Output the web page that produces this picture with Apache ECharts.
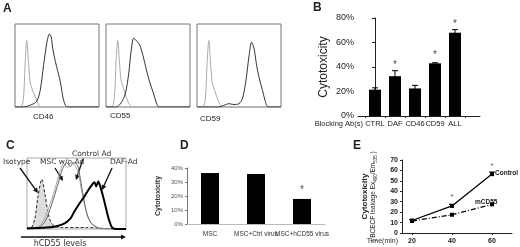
<!DOCTYPE html>
<html>
<head>
<meta charset="utf-8">
<script src="https://cdn.jsdelivr.net/npm/echarts@6/dist/echarts.min.js"></script>
<style>
html, body { margin: 0; padding: 0; background: #fff; }
#main { width: 520px; height: 247px; }
</style>
</head>
<body>
<div id="main"></div>
<script>
// A: flow histograms, [fluorescence %, count %]
const cd46Iso = [[0,0],[7,0],[10,10],[12,50],[14,80],[16,55],[18,30],[20,23],[23,15],[27,5],[31,0],[100,0]];
const cd46Stain = [[0,0],[10,0],[20,3],[26,7],[30,20],[34,50],[38,78],[41,88],[43,85],[45,70],[48,55],[51,43],[54,30],[57,12],[60,2],[63,0],[100,0]];
const cd55Iso = [[0,0],[7,0],[10,12],[12,55],[14,80],[16,55],[18,32],[21,22],[24,12],[28,3],[32,0],[100,0]];
const cd55Stain = [[0,0],[12,0],[18,5],[23,16],[27,40],[30,68],[33,83],[36,80],[40,75],[44,62],[48,45],[52,30],[56,18],[60,5],[63,0],[100,0]];
const cd59Iso = [[0,0],[7,0],[10,10],[12,52],[14,80],[16,55],[18,30],[20,23],[23,14],[27,4],[31,0],[100,0]];
const cd59Stain = [[0,0],[25,0],[32,2],[38,4],[44,3],[50,4],[54,10],[58,30],[62,62],[65,78],[68,70],[71,50],[74,35],[78,20],[81,8],[85,0],[100,0]];
const histNames = ['CD46', 'CD55', 'CD59'];

// B: blocking antibodies
const blockCats = ['CTRL', 'DAF', 'CD46', 'CD59', 'ALL'];
const blockVals = [0.215, 0.325, 0.225, 0.43, 0.68];
const blockErr = [0.015, 0.045, 0.025, 0.005, 0.025];
const blockStar = [null, 0.415, null, 0.5, 0.75];

// C: hCD55 levels
const isoC = [[0,0],[4,1],[8,15],[11,45],[15,70],[18,50],[21,25],[24,10],[28,4],[35,2],[60,2],[75,1],[100,0]];
const mscC = [[0,0],[8,1],[15,8],[22,30],[28,55],[33,80],[37,92],[41,86],[45,94],[49,88],[52,78],[55,55],[58,35],[61,18],[66,6],[72,1],[100,0]];
const ctrlC = [[0,0],[10,1],[18,10],[25,35],[31,62],[36,85],[40,93],[44,88],[47,94],[51,90],[54,70],[57,45],[60,25],[64,10],[70,3],[78,0],[100,0]];
const dafC = [[0,1],[20,2],[30,4],[38,8],[44,15],[48,25],[53,36],[58,46],[62,55],[66,63],[68,66],[70,60],[72,67],[74,60],[77,45],[80,28],[83,12],[86,2],[90,0],[100,0]];

// D: virus
const virusCats = ['MSC', 'MSC+Ctrl virus', 'MSC+hCD55 virus'];
const virusVals = [0.364, 0.357, 0.179];
const virusStar = [null, null, 0.24];

// E: time course
const timePts = [20, 40, 60];
const controlVals = [12, 26, 56.5];
const controlErr = [0.8, 1.5, 2];
const mcd55Vals = [11.5, 17.5, 27.5];
const timeStar = [null, 35, 64];

const FONT = 'Liberation Sans';
const chart = echarts.init(document.getElementById('main'));

function arrow(x1, y1, x2, y2) {
  const a = Math.atan2(y2 - y1, x2 - x1), h = 5, w = 2.5;
  const c = Math.cos(a), s = Math.sin(a);
  return [
    { type: 'line', shape: { x1: x1, y1: y1, x2: x2 - c * 3, y2: y2 - s * 3 }, style: { stroke: '#111', lineWidth: 1.3 } },
    { type: 'polygon', shape: { points: [[x2, y2], [x2 - h * c + w * s, y2 - h * s - w * c], [x2 - h * c - w * s, y2 - h * s + w * c]] }, style: { fill: '#111' } }
  ];
}
function txt(x, y, t, size, extra) {
  return { type: 'text', x: x, y: y, style: Object.assign({ text: t, font: size + 'px "' + FONT + '"', fill: '#222', verticalAlign: 'middle' }, extra || {}) };
}
function errBar(params, api) {
  const top = api.coord([api.value(0), api.value(1) + api.value(2)]);
  const bot = api.coord([api.value(0), api.value(1) - api.value(2)]);
  const cw = 3;
  return { type: 'group', children: [
    { type: 'line', shape: { x1: top[0], y1: top[1], x2: bot[0], y2: bot[1] }, style: { stroke: '#000', lineWidth: 1 } },
    { type: 'line', shape: { x1: top[0] - cw, y1: top[1], x2: top[0] + cw, y2: top[1] }, style: { stroke: '#000', lineWidth: 1 } }
  ] };
}
function starSeries(xi, yi, data, size) {
  return {
    type: 'scatter', xAxisIndex: xi, yAxisIndex: yi, symbolSize: 1,
    itemStyle: { color: 'rgba(0,0,0,0)' },
    label: { show: true, position: 'inside', formatter: '*', fontSize: size, color: '#222', fontFamily: FONT },
    data: data, silent: true
  };
}

const boxLeft = [15, 106, 197];
const grids = boxLeft.map(l => ({ left: l, top: 24, width: 84, height: 83, show: true, borderColor: '#777', borderWidth: 1 }));
grids.push({ left: 358, top: 18, width: 122, height: 98 });          // B
grids.push({ left: 27, top: 158, width: 99, height: 71, show: true, borderColor: '#aaa', borderWidth: 1 }); // C
grids.push({ left: 187, top: 168, width: 138, height: 56 });         // D
grids.push({ left: 402, top: 160, width: 110, height: 73 });         // E

const xAxes = [], yAxes = [];
for (let i = 0; i < 3; i++) {
  xAxes.push({ gridIndex: i, type: 'value', min: 0, max: 100, show: false });
  yAxes.push({ gridIndex: i, type: 'value', min: 0, max: 100, show: false });
}
// B
xAxes.push({
  gridIndex: 3, type: 'value', min: -0.85, max: 5.25,
  axisLine: { lineStyle: { color: '#222' } },
  axisTick: { customValues: [-0.5, 0.5, 1.5, 2.5, 3.5, 4.5], length: 2, lineStyle: { color: '#222' } },
  splitLine: { show: false },
  axisLabel: { customValues: [0, 1, 2, 3, 4], formatter: v => blockCats[Math.round(v)], hideOverlap: false, interval: 0,
    fontSize: 7.5, color: '#222', fontFamily: FONT, margin: 4 }
});
yAxes.push({
  gridIndex: 3, type: 'value', min: 0, max: 0.8, interval: 0.2,
  name: 'Cytotoxicity', nameLocation: 'middle', nameGap: 28,
  nameTextStyle: { fontSize: 12, color: '#222', fontFamily: FONT },
  axisLine: { show: true, lineStyle: { color: '#222' } },
  axisTick: { show: true, length: 3, lineStyle: { color: '#222' } },
  splitLine: { show: false },
  axisLabel: { formatter: v => Math.round(v * 100) + '%', fontSize: 9, color: '#222', fontFamily: FONT, margin: 4 }
});
// C
xAxes.push({ gridIndex: 4, type: 'value', min: 0, max: 100, show: false });
yAxes.push({ gridIndex: 4, type: 'value', min: 0, max: 100, show: false });
// D
xAxes.push({
  gridIndex: 5, type: 'category', data: virusCats,
  axisLine: { lineStyle: { color: '#bbb' } }, axisTick: { show: false },
  axisLabel: { interval: 0, hideOverlap: false, fontSize: 6.5, color: '#333', fontFamily: FONT, margin: 7 }
});
yAxes.push({
  gridIndex: 5, type: 'value', min: 0, max: 0.4, interval: 0.1,
  name: 'Cytotoxicity', nameLocation: 'middle', nameGap: 25,
  nameTextStyle: { fontSize: 7, fontWeight: 'bold', color: '#333', fontFamily: FONT },
  axisLine: { show: true, lineStyle: { color: '#777' } },
  axisTick: { show: true, length: 2, lineStyle: { color: '#777' } },
  splitLine: { show: false },
  axisLabel: { formatter: v => Math.round(v * 100) + '%', fontSize: 6, color: '#555', fontFamily: FONT, margin: 4 }
});
// E
xAxes.push({
  gridIndex: 6, type: 'value', min: 15, max: 70,
  axisLine: { lineStyle: { color: '#222' } },
  axisTick: { customValues: timePts, length: 2 },
  splitLine: { show: false },
  axisLabel: { customValues: timePts, fontSize: 7, fontWeight: 'bold', color: '#222', fontFamily: FONT, margin: 5 }
});
yAxes.push({
  gridIndex: 6, type: 'value', min: 0, max: 70, interval: 10,
  name: '{b|Cytotoxicity}\n{n|( BCECF leakage Ex}{s|490}{n|/Em}{s|535}{n| )}',
  nameLocation: 'middle', nameGap: 24,
  nameTextStyle: { rich: {
    b: { fontSize: 8, fontWeight: 'bold', color: '#222', fontFamily: FONT, lineHeight: 9 },
    n: { fontSize: 6.5, color: '#222', fontFamily: FONT, lineHeight: 9 },
    s: { fontSize: 4.5, color: '#222', fontFamily: FONT, verticalAlign: 'bottom', lineHeight: 9 }
  } },
  axisLine: { show: true, lineStyle: { color: '#222' } },
  axisTick: { show: true, length: 2 },
  splitLine: { show: false },
  axisLabel: { fontSize: 7, fontWeight: 'bold', color: '#222', fontFamily: FONT, margin: 4 }
});

const series = [];
const hist = [[cd46Iso, cd46Stain], [cd55Iso, cd55Stain], [cd59Iso, cd59Stain]];
hist.forEach((pair, i) => {
  series.push({ type: 'line', xAxisIndex: i, yAxisIndex: i, data: pair[0], smooth: 0.3, showSymbol: false, lineStyle: { color: '#aaa', width: 1 } });
  series.push({ type: 'line', xAxisIndex: i, yAxisIndex: i, data: pair[1], smooth: 0.3, showSymbol: false, lineStyle: { color: '#333', width: 1 } });
});
// B
series.push({ type: 'bar', xAxisIndex: 3, yAxisIndex: 3, barWidth: 12, itemStyle: { color: '#000' }, data: blockVals.map((v, i) => [i, v]) });
series.push({ type: 'custom', xAxisIndex: 3, yAxisIndex: 3, renderItem: errBar, data: blockVals.map((v, i) => [i, v, blockErr[i]]) });
series.push(starSeries(3, 3, blockStar.map((v, i) => v == null ? null : [i, v]).filter(d => d), 10));
// C
series.push({ type: 'line', xAxisIndex: 4, yAxisIndex: 4, data: isoC, smooth: 0.3, showSymbol: false, lineStyle: { color: '#222', width: 1, type: [3, 2] }, areaStyle: { color: '#dcdcdc', opacity: 1 } });
series.push({ type: 'line', xAxisIndex: 4, yAxisIndex: 4, data: mscC, smooth: 0.3, showSymbol: false, lineStyle: { color: '#aaa', width: 1 } });
series.push({ type: 'line', xAxisIndex: 4, yAxisIndex: 4, data: ctrlC, smooth: 0.3, showSymbol: false, lineStyle: { color: '#666', width: 1 } });
series.push({ type: 'line', xAxisIndex: 4, yAxisIndex: 4, data: dafC, smooth: 0.3, showSymbol: false, lineStyle: { color: '#000', width: 2 } });
// D
series.push({ type: 'bar', xAxisIndex: 5, yAxisIndex: 5, barWidth: 18, itemStyle: { color: '#000' }, data: virusVals });
series.push(starSeries(5, 5, virusStar.map((v, i) => v == null ? null : [virusCats[i], v]).filter(d => d), 10));
// E
series.push({ type: 'line', xAxisIndex: 6, yAxisIndex: 6, data: timePts.map((t, i) => [t, controlVals[i]]), symbol: 'rect', symbolSize: 4, itemStyle: { color: '#000' }, lineStyle: { color: '#000', width: 1.3 } });
series.push({ type: 'custom', xAxisIndex: 6, yAxisIndex: 6, renderItem: errBar, data: timePts.map((t, i) => [t, controlVals[i], controlErr[i]]) });
series.push({ type: 'line', xAxisIndex: 6, yAxisIndex: 6, data: timePts.map((t, i) => [t, mcd55Vals[i]]), symbol: 'rect', symbolSize: 4, itemStyle: { color: '#000' }, lineStyle: { color: '#000', width: 1.3, type: [5, 2, 1, 2] } });
series.push(starSeries(6, 6, timeStar.map((v, i) => v == null ? null : [timePts[i], v]).filter(d => d), 8));

const cFont = '7.5px "DejaVu Sans"';
const graphics = [
  txt(3, 9, 'A', 12, { font: 'bold 12px "' + FONT + '"' }),
  txt(313, 8, 'B', 12, { font: 'bold 12px "' + FONT + '"' }),
  txt(6, 146, 'C', 12, { font: 'bold 12px "' + FONT + '"' }),
  txt(180, 146, 'D', 12, { font: 'bold 12px "' + FONT + '"' }),
  txt(353, 146, 'E', 12, { font: 'bold 12px "' + FONT + '"' }),
  txt(33, 117, histNames[0], 8),
  txt(110, 116, histNames[1], 8),
  txt(200, 119, histNames[2], 8),
  txt(363, 124, 'Blocking Ab(s)', 7.5, { align: 'right' }),
  txt(3, 162, 'Isotype', 7.5, { font: cFont, fill: '#333' }),
  txt(40, 162, 'MSC w/o Ad', 7.5, { font: cFont, fill: '#333' }),
  txt(72, 154, 'Control Ad', 7.5, { font: cFont, fill: '#333' }),
  txt(110, 162, 'DAF-Ad', 7.5, { font: cFont, fill: '#333' }),
  txt(60, 244, 'hCD55 levels', 8, { font: '8px "DejaVu Sans"', fill: '#333', align: 'center' }),
  txt(398, 241, 'Time(min)', 7, { align: 'right', fill: '#333' }),
  txt(495, 173, 'Control', 6.5, { font: 'bold 6.5px "' + FONT + '"' }),
  txt(475, 202, 'mCD55', 6.5, { font: 'bold 6.5px "' + FONT + '"' })
]
  .concat(arrow(20, 168, 38, 193))
  .concat(arrow(55, 168, 63, 181))
  .concat(arrow(83, 159, 76, 180))
  .concat(arrow(112, 168, 102, 190))
  .concat(arrow(21, 237, 126, 237));

chart.setOption({
  backgroundColor: '#fff',
  animation: false,
  grid: grids,
  xAxis: xAxes,
  yAxis: yAxes,
  series: series,
  graphic: graphics
});
window.addEventListener('resize', () => {
  if (chart) chart.resize();
});
</script>
</body>
</html>
